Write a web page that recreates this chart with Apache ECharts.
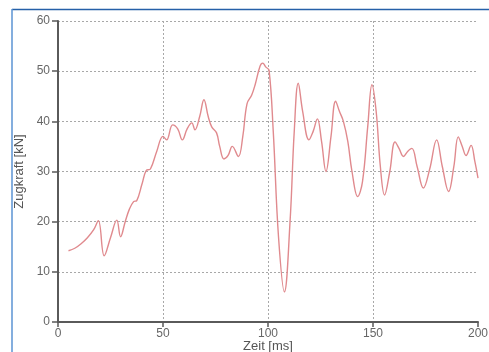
<!DOCTYPE html>
<html>
<head>
<meta charset="utf-8">
<script src="https://cdn.jsdelivr.net/npm/echarts@6/dist/echarts.min.js"></script>
<style>
html,body{margin:0;padding:0;background:#fff;}
#c{width:489px;height:352px;}
</style>
</head>
<body>
<div id="c"></div>
<script>
const timesMs = [5, 8, 11, 14, 17, 19.2, 22, 25, 28, 29.8, 32, 34, 36, 37.5, 40, 42, 44, 47, 50, 51.7,
  54.6, 57, 59.2, 61.5, 63.7, 65.2, 67.5, 69.5, 71.5, 73.2, 75.5, 77, 79, 81, 83, 85.9, 88, 90, 92.2, 94,
  96.2, 97.5, 99, 100.5, 102.5, 105, 107.8, 110.5, 112.5, 114.4, 116.5, 119.5, 121.5, 123.5, 125.5, 127.6,
  130, 132.2, 134, 135.9, 138, 140, 142.7, 145, 147.5, 149.5, 151.5, 153.5, 155.5, 158, 160.5, 162.5,
  164.5, 166.5, 168.5, 171, 174, 177, 180.3, 183, 186, 188.5, 190.6, 192.5, 194.3, 196.7, 198.5, 200];
const forceKN = [14.2, 14.7, 15.6, 16.8, 18.4, 20.2, 13.2, 16.8, 20.3, 17.0, 20, 22.5, 24, 24.2, 27.5, 30.2, 30.5, 34, 37, 36.3,
  39.3, 38.5, 36.3, 38.5, 39.7, 38.3, 41, 44.3, 41, 38.9, 37.7, 35, 32.5, 33.2, 35, 33, 37, 43.5, 45.2, 47.5,
  51, 51.6, 50.8, 50.2, 38, 17, 6, 20, 38, 47.6, 42, 36.3, 38, 40.5, 36, 30,
  37, 44, 42, 40, 36, 30, 25, 28, 39, 47.3, 42, 31, 25.3, 30, 35.9, 34.5,
  33, 34, 34.6, 31, 26.7, 30.5, 36.3, 31, 26, 31, 36.9, 35, 33.2, 35.2, 32, 28.7];
const xTicks = [0, 50, 100, 150, 200];
const yTicks = [0, 10, 20, 30, 40, 50, 60];
const xTitle = 'Zeit [ms]';
const yTitle = 'Zugkraft [kN]';

const chart = echarts.init(document.getElementById('c'));
const pts = timesMs.map((t, i) => [t, forceKN[i]]);
const font = 'Liberation Sans, Arial, sans-serif';
chart.setOption({
  animation: false,
  grid: {left: 58, right: 11, top: 21, bottom: 30, containLabel: false, outerBoundsMode: 'none'},
  graphic: [
    {type: 'line', shape: {x1: 12, y1: 9.5, x2: 489, y2: 9.5}, style: {stroke: '#2560a8', lineWidth: 1.5}},
    {type: 'line', shape: {x1: 12, y1: 9, x2: 12, y2: 352}, style: {stroke: '#5b93d3', lineWidth: 1.5}}
  ],
  xAxis: {
    type: 'value', min: xTicks[0], max: xTicks[xTicks.length - 1], interval: 50,
    name: xTitle, nameLocation: 'middle', nameGap: 18, nameMoveOverlap: false,
    nameTextStyle: {fontFamily: font, fontSize: 13, color: '#555'},
    axisLine: {show: true, onZero: false, lineStyle: {color: '#5a5a5a', width: 2}},
    axisTick: {show: true, length: 5, lineStyle: {color: '#5a5a5a', width: 1.5}},
    axisLabel: {fontFamily: font, fontSize: 12, color: '#666', margin: 6},
    splitLine: {show: true, showMinLine: false, showMaxLine: false, lineStyle: {color: '#a8a8a8', type: [2, 2], width: 1}}
  },
  yAxis: {
    type: 'value', min: yTicks[0], max: yTicks[yTicks.length - 1], interval: 10,
    name: yTitle, nameLocation: 'middle', nameGap: 32, nameRotate: 90, nameMoveOverlap: false,
    nameTextStyle: {fontFamily: font, fontSize: 13, color: '#555'},
    axisLine: {show: true, lineStyle: {color: '#5a5a5a', width: 2}},
    axisTick: {show: true, length: 6, lineStyle: {color: '#5a5a5a', width: 1.5}},
    axisLabel: {fontFamily: font, fontSize: 12, color: '#666', margin: 8},
    splitLine: {show: true, showMinLine: false, lineStyle: {color: '#a8a8a8', type: [2, 2], width: 1}}
  },
  series: [{
    type: 'line', data: pts, smooth: 0.4, showSymbol: false,
    lineStyle: {color: '#e08a8e', width: 1.4}
  }]
});
</script>
</body>
</html>
